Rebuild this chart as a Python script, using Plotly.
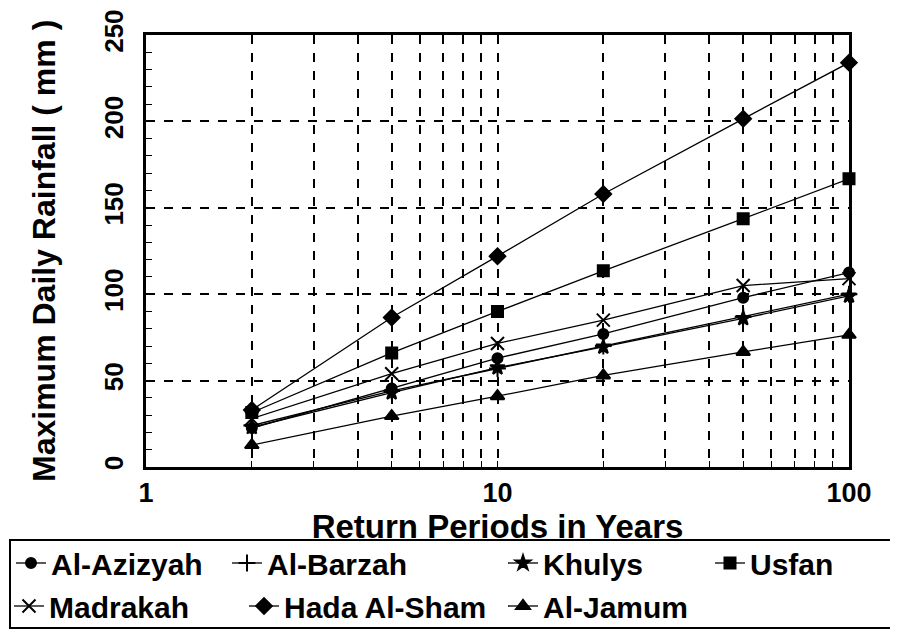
import plotly.graph_objects as go

# -----------------------------------------------------------
# Datos (lluvia maxima diaria, mm)
# -----------------------------------------------------------
return_periods = [2, 5, 10, 20, 50, 100]

al_azizyah = [22.5, 45.5, 63, 77, 98, 112.5]
al_barzah = [24, 44, 57, 70, 87, 100]
khulys = [23, 43, 57.5, 69.5, 86, 99]
usfan = [31.5, 66, 90, 113.5, 143.7, 166.8]
madrakah = [28, 54, 71.5, 85, 105, 109]
hada_al_sham = [33, 86.5, 122, 158, 201.5, 234]
al_jamum = [12.7, 29.5, 41, 53, 66.6, 76.5]

series = [
    ("Al-Azizyah", al_azizyah, "circle", 10),
    ("Al-Barzah", al_barzah, "cross-thin", 12),
    ("Khulys", khulys, "star", 11),
    ("Usfan", usfan, "square", 11),
    ("Madrakah", madrakah, "x-thin", 13),
    ("Hada Al-Sham", hada_al_sham, "diamond", 12),
    ("Al-Jamum", al_jamum, "triangle-up", 12),
]

W, H = 898, 630
FONT = "Liberation Sans, Arial, sans-serif"
BOLD = dict(family=FONT, color="black", weight="bold")

# posicion (px) de cada entrada de la leyenda: inicio del simbolo, centro de fila
legend_pos = [(8, 555), (224, 555), (500, 555), (707, 555),
              (6, 598), (241, 598), (500, 598)]

fig = go.Figure()
legends = {}
for i, ((name, vals, sym, size), (lx, ly)) in enumerate(zip(series, legend_pos)):
    key = f"legend{i + 2}"
    fig.add_trace(go.Scatter(
        x=return_periods, y=vals, name=name, mode="lines+markers",
        line=dict(color="black", width=1.3), cliponaxis=False,
        marker=dict(symbol=sym, size=size, color="black",
                    line=dict(color="black", width=2)),
        legend=key,
    ))
    legends[key] = dict(
        xref="container", yref="container",
        x=(lx - 5) / W, xanchor="left", y=1 - ly / H, yanchor="middle",
        bgcolor="rgba(0,0,0,0)", borderwidth=0, itemwidth=30,
        font=dict(size=30, **BOLD),
    )

fig.update_xaxes(
    type="log", range=[0, 2], dtick=1,
    showline=True, linewidth=2.5, linecolor="black", mirror=True,
    showgrid=True, gridcolor="black", griddash="dash", gridwidth=1.5,
    ticks="inside", ticklen=6, tickcolor="black",
    tickfont=dict(size=27, **BOLD), zeroline=False, ticklabeloverflow="allow",
    minor=dict(dtick="D1", showgrid=True, gridcolor="black", griddash="dash",
               gridwidth=1.5, ticks="inside", ticklen=6, tickcolor="black"),
    title=dict(text="Return Periods in Years", font=dict(size=33, **BOLD),
               standoff=0),
)
fig.update_yaxes(
    range=[0, 250], dtick=50, tickangle=-90, ticklabelstandoff=10,
    showline=True, linewidth=2.5, linecolor="black", mirror=True,
    showgrid=True, gridcolor="black", griddash="dash", gridwidth=1.5,
    ticks="inside", ticklen=6, tickcolor="black",
    tickfont=dict(size=26, **BOLD), zeroline=False, ticklabeloverflow="allow",
    minor=dict(dtick=10, ticks="inside", ticklen=6, tickcolor="black", showgrid=False),
)

ml, mr, mt, mb = 138, 57, 27, 171
pw, ph = W - ml - mr, H - mt - mb

# titulo del eje y como anotacion (con varias leyendas el titulo del eje se descoloca)
fig.add_annotation(
    text="Maximum Daily Rainfall ( mm )", textangle=-90,
    xref="paper", yref="paper", x=(36 - ml) / pw, y=0.5,
    xanchor="center", yanchor="middle", showarrow=False,
    font=dict(size=32, **BOLD),
)

# marco de la leyenda
fig.add_shape(
    type="rect", xref="paper", yref="paper",
    x0=(2 - ml) / pw, x1=(888 - ml) / pw,
    y0=(H - mb - 620) / ph, y1=(H - mb - 532) / ph,
    line=dict(color="black", width=2), fillcolor="rgba(0,0,0,0)",
)

fig.update_layout(
    width=W, height=H,
    margin=dict(l=ml, r=mr, t=mt, b=mb, autoexpand=False),
    paper_bgcolor="white", plot_bgcolor="white",
    font=dict(family=FONT, color="black", size=26),
    showlegend=True,
    **legends,
)

fig.write_html("out.html")
